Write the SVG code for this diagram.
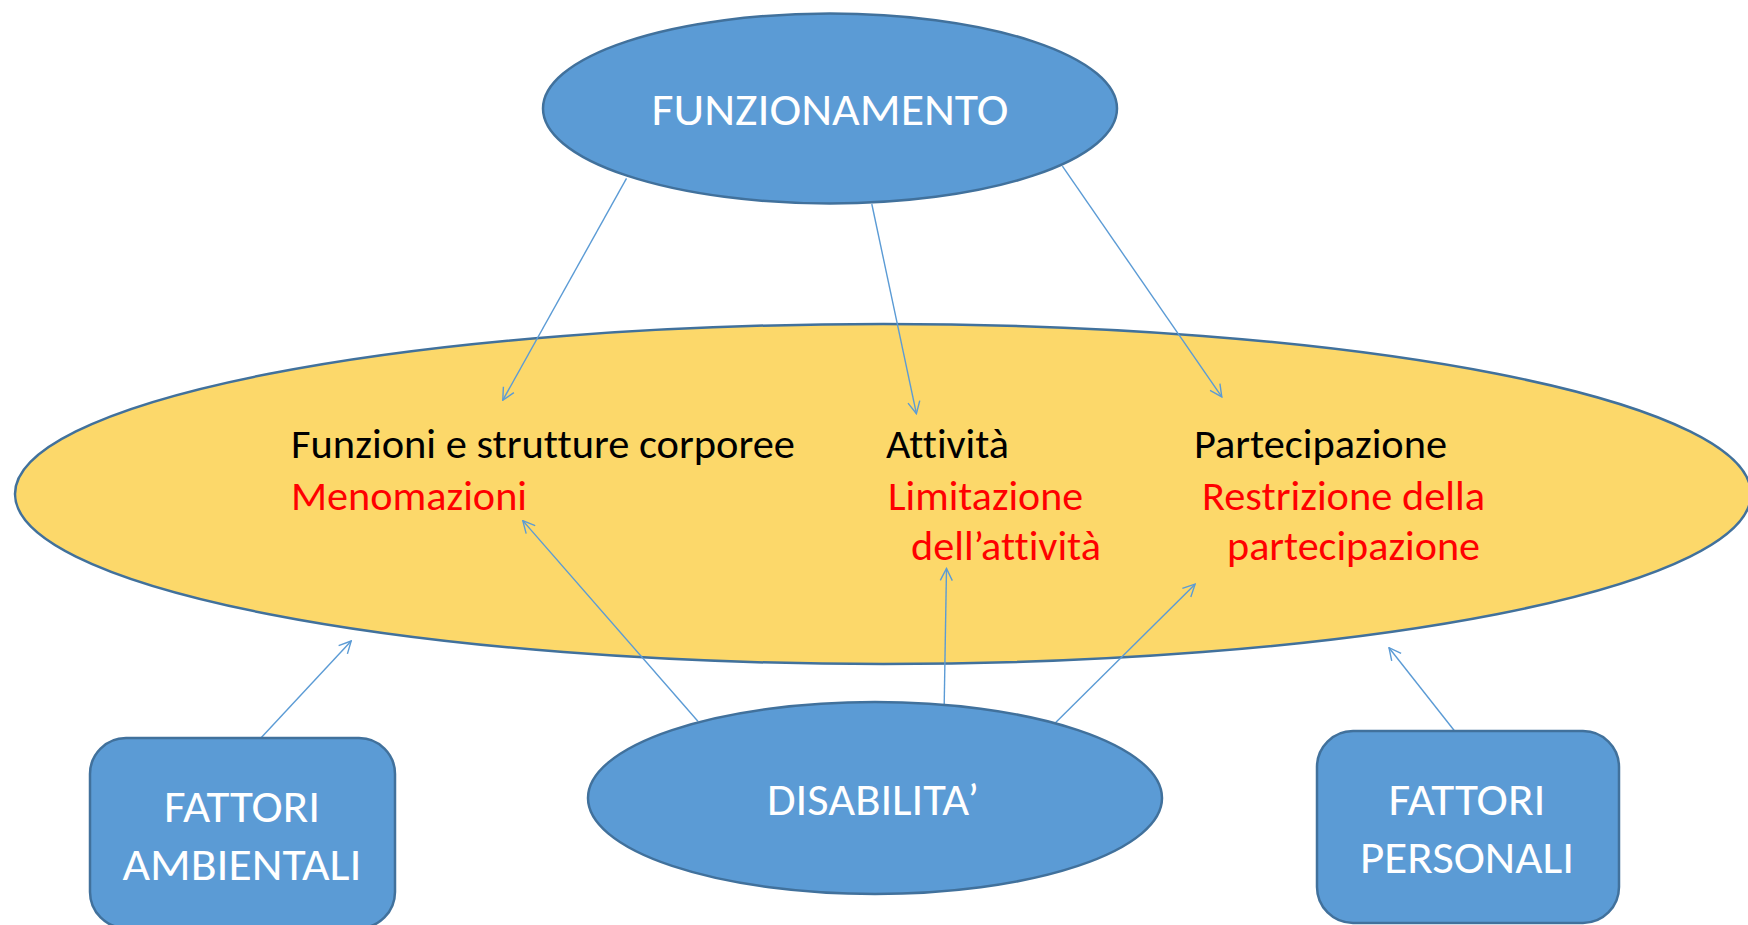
<svg xmlns="http://www.w3.org/2000/svg" width="1748" height="925" viewBox="0 0 1748 925">
<style>
.blue{fill:#5B9BD5;stroke:#41719C;stroke-width:2.5}
.yel{fill:#FCD86A;stroke:#41719C;stroke-width:2.5}
.t{font-family:Carlito,Lato,"Liberation Sans",sans-serif;font-variant-ligatures:none;font-feature-settings:"liga" 0}
.w{fill:#FFFFFF;font-size:46px}
.k{fill:#000000;font-size:40px}
.r{fill:#FF0000;font-size:40px}
.c{fill:none;stroke:#5B9BD5;stroke-width:1.4}
</style>
<defs>
<marker id="arr" viewBox="0 0 14 14" refX="13" refY="7" markerWidth="14" markerHeight="14" markerUnits="userSpaceOnUse" orient="auto">
<path d="M1,1 L13,7 L1,13" fill="none" stroke="#5B9BD5" stroke-width="1.4"/>
</marker>
</defs>
<rect width="1748" height="925" fill="#FFFFFF"/>
<g id="attivita-ellisse">
<ellipse class="yel" cx="883" cy="494" rx="868" ry="170"/>
<text class="t k" x="291" y="458" textLength="504" lengthAdjust="spacingAndGlyphs">Funzioni e strutture corporee</text>
<text class="t r" x="291" y="510" textLength="236" lengthAdjust="spacingAndGlyphs">Menomazioni</text>
<text class="t k" x="886" y="458" textLength="123" lengthAdjust="spacingAndGlyphs">Attività</text>
<text class="t r" x="888" y="510" textLength="195" lengthAdjust="spacingAndGlyphs">Limitazione</text>
<text class="t r" x="911" y="560" textLength="190" lengthAdjust="spacingAndGlyphs">dell’attività</text>
<text class="t k" x="1194" y="458" textLength="253" lengthAdjust="spacingAndGlyphs">Partecipazione</text>
<text class="t r" x="1202" y="510" textLength="283" lengthAdjust="spacingAndGlyphs">Restrizione della</text>
<text class="t r" x="1227" y="560" textLength="253" lengthAdjust="spacingAndGlyphs">partecipazione</text>
</g>
<g id="connectors">
<line class="c" x1="626.5" y1="178.4" x2="502.8" y2="400.2" marker-end="url(#arr)"/>
<line class="c" x1="871.8" y1="204" x2="916.4" y2="413.6" marker-end="url(#arr)"/>
<line class="c" x1="1062.4" y1="166.1" x2="1221.8" y2="396.9" marker-end="url(#arr)"/>
<line class="c" x1="260.9" y1="738" x2="351.2" y2="641" marker-end="url(#arr)"/>
<line class="c" x1="697.9" y1="721.3" x2="522.8" y2="520.6" marker-end="url(#arr)"/>
<line class="c" x1="944.2" y1="704.6" x2="946.5" y2="568.5" marker-end="url(#arr)"/>
<line class="c" x1="1055.7" y1="722.4" x2="1195.1" y2="584.2" marker-end="url(#arr)"/>
<line class="c" x1="1454.8" y1="731.3" x2="1389" y2="647.7" marker-end="url(#arr)"/>
</g>
<g id="funzionamento">
<ellipse class="blue" cx="830" cy="108.5" rx="287" ry="95"/>
<text class="t w" x="830" y="125" text-anchor="middle" textLength="357" lengthAdjust="spacingAndGlyphs">FUNZIONAMENTO</text>
</g>
<g id="disabilita">
<ellipse class="blue" cx="875" cy="798" rx="287" ry="96"/>
<text class="t w" x="873" y="815" text-anchor="middle" textLength="212" lengthAdjust="spacingAndGlyphs">DISABILITA’</text>
</g>
<g id="fattori-ambientali">
<rect class="blue" x="90" y="738" width="305" height="190" rx="36" ry="36"/>
<text class="t w" x="242" y="822" text-anchor="middle" textLength="156" lengthAdjust="spacingAndGlyphs">FATTORI</text>
<text class="t w" x="242" y="880" text-anchor="middle" textLength="239" lengthAdjust="spacingAndGlyphs">AMBIENTALI</text>
</g>
<g id="fattori-personali">
<rect class="blue" x="1317" y="731" width="302" height="192" rx="36" ry="36"/>
<text class="t w" x="1467" y="815" text-anchor="middle" textLength="157" lengthAdjust="spacingAndGlyphs">FATTORI</text>
<text class="t w" x="1467" y="873" text-anchor="middle" textLength="214" lengthAdjust="spacingAndGlyphs">PERSONALI</text>
</g>
</svg>
